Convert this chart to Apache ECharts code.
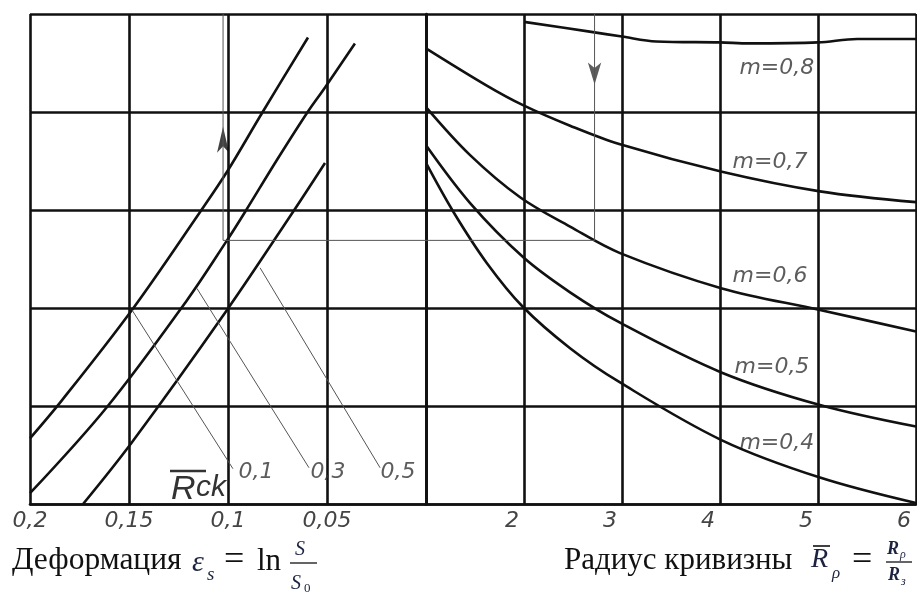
<!doctype html>
<html lang="ru">
<head>
  <meta charset="utf-8">
  <title>Номограмма</title>
  <script src="https://cdn.jsdelivr.net/npm/echarts@6/dist/echarts.min.js"></script>
  <style>
    html, body { margin: 0; padding: 0; background: #fff; }
    #chartmain { width: 917px; height: 596px; }
  </style>
</head>
<body>
<div id="chartmain"></div>
<script>
  // ---- left half: deformation eps (axis runs 0.2 -> 0), common ordinate 0..5
  var epsTickValues = [0.2, 0.15, 0.1, 0.05];
  var epsTickLabels = ['0,2', '0,15', '0,1', '0,05'];

  var rck01Eps = [0.2, 0.1838, 0.1485, 0.1141, 0.1005, 0.0828, 0.0596];
  var rck01Y   = [0.67, 1.06, 1.98, 2.98, 3.39, 3.99, 4.76];
  var rck03Eps = [0.2, 0.1611, 0.1207, 0.1005, 0.0914, 0.0753, 0.0601, 0.051, 0.0359];
  var rck03Y   = [0.11, 0.99, 2.08, 2.69, 2.98, 3.51, 3.99, 4.25, 4.70];
  var rck05Eps = [0.1732, 0.1485, 0.1005, 0.0672, 0.051];
  var rck05Y   = [0, 0.63, 1.98, 2.98, 3.48];

  // leader lines to the Rck labels
  var leaderNames = ['0,1', '0,3', '0,5'];
  var leaderEps = [[0.1485, 0.0975], [0.1157, 0.0591], [0.0838, 0.0232]];
  var leaderY   = [[1.98, 0.36], [2.2, 0.37], [2.41, 0.37]];
  var leaderLabelEps = [0.0859, 0.0495, 0.0141];
  var leaderLabelY   = [0.32, 0.32, 0.32];

  // ---- right half: curvature radius R (1..6)
  var rTickValues = [2, 3, 4, 5, 6];
  var rTickLabels = ['2', '3', '4', '5', '6'];

  var m08R = [2, 2.67, 3, 3.35, 4, 4.3, 5, 5.4, 6];
  var m08Y = [4.92, 4.82, 4.77, 4.72, 4.71, 4.70, 4.71, 4.745, 4.745];
  var m07R = [1, 1.62, 1.99, 2.47, 2.98, 4.02, 5.02, 6];
  var m07Y = [4.65, 4.27, 4.07, 3.86, 3.67, 3.39, 3.19, 3.08];
  var m06R = [1, 1.45, 1.96, 2.47, 2.98, 4.02, 5.02, 6];
  var m06Y = [4.05, 3.56, 3.13, 2.83, 2.56, 2.20, 1.98, 1.76];
  var m05R = [1, 1.45, 1.99, 2.47, 2.98, 4.02, 5.02, 6];
  var m05Y = [3.66, 3.07, 2.52, 2.16, 1.85, 1.34, 1.01, 0.79];
  var m04R = [1, 1.28, 1.62, 1.99, 2.47, 2.98, 4.02, 5.02, 6];
  var m04Y = [3.48, 2.98, 2.46, 2.01, 1.59, 1.24, 0.65, 0.27, 0.01];

  var mLabels = ['m=0,8', 'm=0,7', 'm=0,6', 'm=0,5', 'm=0,4'];
  var mLabelR = [4.58, 4.51, 4.51, 4.53, 4.58];
  var mLabelY = [4.45, 3.49, 2.32, 1.40, 0.62];

  // example path (thin guide) and its arrows
  var guideEps = 0.1025, guideR = 2.72, guideY = 2.69;
  var arrowUp = [0.1025, 3.85];
  var arrowDown = [2.72, 4.28];

  function pairs(xs, ys) {
    return xs.map(function (x, i) { return [x, ys[i]]; });
  }
  function tickFormatter(values, labels) {
    return function (v) {
      for (var i = 0; i < values.length; i++) {
        if (Math.abs(values[i] - v) < 1e-6) return labels[i];
      }
      return '';
    };
  }

  var INK = '#111';
  var THIN = '#555';
  var MATH = '#1c2340';
  var tickFont = { fontFamily: 'DejaVu Sans', fontStyle: 'italic', fontSize: 22, color: '#444' };

  function curve(name, xi, yi, data) {
    return {
      name: name, type: 'line', xAxisIndex: xi, yAxisIndex: yi,
      data: data, showSymbol: false, smooth: 0.35, silent: true,
      lineStyle: { color: INK, width: 2.6 }
    };
  }
  function thin(xi, yi, data) {
    return {
      type: 'line', xAxisIndex: xi, yAxisIndex: yi, data: data,
      showSymbol: false, silent: true, lineStyle: { color: THIN, width: 1 }
    };
  }

  var series = [
    curve('Rck 0,1', 0, 0, pairs(rck01Eps, rck01Y)),
    curve('Rck 0,3', 0, 0, pairs(rck03Eps, rck03Y)),
    curve('Rck 0,5', 0, 0, pairs(rck05Eps, rck05Y)),
    curve('m=0,8', 1, 1, pairs(m08R, m08Y)),
    curve('m=0,7', 1, 1, pairs(m07R, m07Y)),
    curve('m=0,6', 1, 1, pairs(m06R, m06Y)),
    curve('m=0,5', 1, 1, pairs(m05R, m05Y)),
    curve('m=0,4', 1, 1, pairs(m04R, m04Y))
  ];
  leaderNames.forEach(function (n, i) {
    series.push(thin(0, 0, pairs(leaderEps[i], leaderY[i])));
  });
  // guide: up on the left, across, up on the right
  series.push(thin(0, 0, [[guideEps, 5], [guideEps, guideY], [0, guideY]]));
  series.push(thin(1, 1, [[1, guideY], [guideR, guideY], [guideR, 5]]));
  series.push({
    type: 'scatter', xAxisIndex: 0, yAxisIndex: 0, silent: true,
    symbol: 'arrow', symbolSize: [9, 26], itemStyle: { color: INK },
    data: [arrowUp]
  });
  series.push({
    type: 'scatter', xAxisIndex: 1, yAxisIndex: 1, silent: true,
    symbol: 'arrow', symbolSize: [10, 22], symbolRotate: 180, itemStyle: { color: '#333' },
    data: [arrowDown]
  });
  // text labels
  series.push({
    type: 'scatter', xAxisIndex: 0, yAxisIndex: 0, silent: true, symbolSize: 0,
    data: leaderNames.map(function (n, i) { return { name: n, value: [leaderLabelEps[i], leaderLabelY[i]] }; }),
    label: { show: true, position: 'inside', formatter: '{b}',
             fontFamily: 'DejaVu Sans', fontStyle: 'italic', fontSize: 22, color: '#333' }
  });
  series.push({
    type: 'scatter', xAxisIndex: 1, yAxisIndex: 1, silent: true, symbolSize: 0,
    data: mLabels.map(function (n, i) { return { name: n, value: [mLabelR[i], mLabelY[i]] }; }),
    label: { show: true, position: 'inside', formatter: '{b}',
             fontFamily: 'DejaVu Sans', fontStyle: 'italic', fontSize: 22, color: '#333' }
  });

  var gridLine = { show: true, lineStyle: { color: INK, width: 2.6 } };
  var serif = '"Liberation Serif", "Times New Roman", serif';

  function txt(x, y, text, font, fill, align) {
    return { type: 'text', x: x, y: y, silent: true,
             style: { text: text, font: font, fill: fill || '#111', align: align || 'left', verticalAlign: 'middle' } };
  }
  function rule(x1, x2, y, w) {
    return { type: 'line', silent: true, shape: { x1: x1, y1: y, x2: x2, y2: y }, style: { stroke: '#111', lineWidth: w } };
  }

  var option = {
    backgroundColor: '#fff',
    animation: false,
    grid: [
      { left: 30, right: 491, top: 14, bottom: 92 },
      { left: 426, right: 1, top: 14, bottom: 92 }
    ],
    xAxis: [
      {
        gridIndex: 0, type: 'value', min: 0, max: 0.2, interval: 0.05, inverse: true,
        axisLine: gridLine, axisTick: { show: false }, splitLine: gridLine,
        axisLabel: Object.assign({ margin: 6, showMinLabel: true, showMaxLabel: true,
          formatter: tickFormatter(epsTickValues, epsTickLabels) }, tickFont)
      },
      {
        gridIndex: 1, type: 'value', min: 1, max: 6, interval: 1,
        axisLine: gridLine, axisTick: { show: false }, splitLine: gridLine,
        axisLabel: Object.assign({ margin: 6, showMinLabel: true, showMaxLabel: true,
          padding: [0, 24, 0, 0],
          formatter: tickFormatter(rTickValues, rTickLabels) }, tickFont)
      }
    ],
    yAxis: [
      { gridIndex: 0, type: 'value', min: 0, max: 5, interval: 1,
        axisLine: gridLine, axisTick: { show: false }, axisLabel: { show: false }, splitLine: gridLine },
      { gridIndex: 1, type: 'value', min: 0, max: 5, interval: 1,
        axisLine: { show: false }, axisTick: { show: false }, axisLabel: { show: false }, splitLine: gridLine }
    ],
    series: series,
    graphic: [
      // R-bar ck label inside the left field
      { type: 'text', left: 171, top: 473, silent: true, style: { text: 'R', font: 'italic 34px "Liberation Sans"', fill: '#333' } },
      { type: 'text', left: 196, top: 473, silent: true, style: { text: 'ck', font: 'italic 30px "Liberation Sans"', fill: '#333' } },
      { type: 'line', silent: true, shape: { x1: 170, y1: 471, x2: 206, y2: 471 }, style: { stroke: '#333', lineWidth: 2.5 } },

      // left axis title
      txt(12, 561, 'Деформация', '31.5px ' + serif),
      txt(192, 563, 'ε', 'italic 30px ' + serif, MATH),
      txt(207, 575, 's', 'italic 19px ' + serif, MATH),
      txt(224, 561, '=', '36px ' + serif),
      txt(257, 562, 'ln', '31px ' + serif),
      txt(300, 550, 'S', 'italic 20px ' + serif, MATH, 'center'),
      rule(290, 317, 563, 1.3),
      txt(291, 584, 'S', 'italic 20px ' + serif, MATH),
      txt(304, 589, '0', '13px ' + serif, MATH),

      // right axis title
      txt(564, 561, 'Радиус кривизны', '31px ' + serif),
      txt(811, 560, 'R', 'italic 28px ' + serif, MATH),
      rule(813, 830, 546, 1.6),
      txt(832, 574, 'ρ', 'italic 17px ' + serif, MATH),
      txt(852, 561, '=', '36px ' + serif),
      txt(887, 549, 'R', 'italic bold 18px ' + serif, MATH),
      txt(900, 555, 'ρ', 'italic 12px ' + serif, MATH),
      rule(886, 912, 562, 1.3),
      txt(888, 575, 'R', 'italic bold 18px ' + serif, MATH),
      txt(901, 582, 'з', 'italic 12px ' + serif, MATH)
    ]
  };

  var myChart = echarts.init(document.getElementById('chartmain'));
  myChart.setOption(option);
</script>
</body>
</html>
